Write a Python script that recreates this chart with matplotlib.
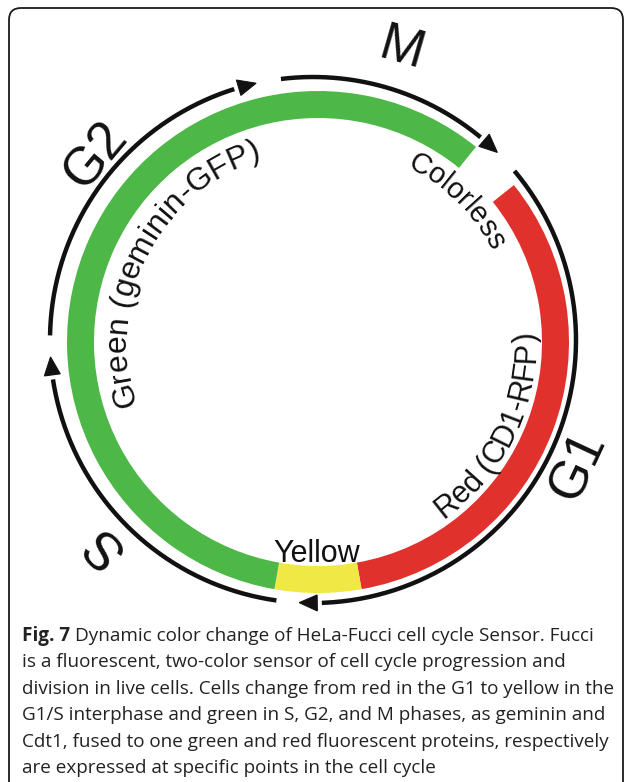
import numpy as np
import matplotlib
matplotlib.use("Agg")
import matplotlib.pyplot as plt
from matplotlib.patches import Wedge, Polygon, FancyBboxPatch
from matplotlib.font_manager import FontProperties

# ---------------- data ----------------
# coloured ring segments (math angles, counter-clockwise from theta1 to theta2)
seg_names = ["Red", "Yellow", "Green"]
seg_theta1 = [-80, -100, 51]
seg_theta2 = [38.7, -80, 260]
seg_colors = ["#E1312C", "#EFE845", "#4DB748"]

# phase arrows (travel clockwise: start angle -> arrow-tip angle)
phase_names = ["S", "G2", "M", "G1"]
phase_start = [262, 179, 97, 40]
phase_end = [183.7, 102.5, 45.5, -93]

# phase labels
label_text = ["M", "G1", "S", "G2"]
label_angle = [74, -25.5, 223.5, 140]
label_radius = [304, 288, 295, 290]
label_rot = [-16, 65, 133.5, 50]

# curved labels inside the ring
arc_text = ["Green (geminin-GFP)", "Red (CD1-RFP)", "Colorless"]
arc_center = [153, -26, 45.5]
arc_radius = [192, 217, 196]
arc_clockwise = [True, False, True]
arc_size = [23, 22, 21]

caption_bold = "Fig. 7"
caption_lines = [
    "Dynamic color change of HeLa-Fucci cell cycle Sensor. Fucci",
    "is a fluorescent, two-color sensor of cell cycle progression and",
    "division in live cells. Cells change from red in the G1 to yellow in the",
    "G1/S interphase and green in S, G2, and M phases, as geminin and",
    "Cdt1, fused to one green and red fluorescent proteins, respectively",
    "are expressed at specific points in the cell cycle",
]

# ---------------- layout ----------------
W, H = 627, 782
fig = plt.figure(figsize=(W / 100, H / 100), dpi=100)
ax = fig.add_axes([0, 0, 1, 1])
ax.set_xlim(0, W)
ax.set_ylim(0, H)
ax.axis("off")
renderer = fig.canvas.get_renderer()

cx, cy = 318, H - 342
r_out, ring_w = 251, 27
R_arrow, cxa, cya = 263, 313, H - 340

# frame
frame = FancyBboxPatch((9, -60), 614, (H - 8) + 60, boxstyle="round,pad=0,rounding_size=12",
                       fc="none", ec="#1a1a1a", lw=1.3)
ax.add_patch(frame)

# coloured ring
for t1, t2, col in zip(seg_theta1, seg_theta2, seg_colors):
    ax.add_patch(Wedge((cx, cy), r_out, t1, t2, width=ring_w, fc=col, ec="none"))

# phase arrows
head_len, head_hw = 18, 8
for th0, th1 in zip(phase_start, phase_end):
    dth = np.degrees(head_len / R_arrow)
    th_base = th1 + dth
    t = np.radians(np.linspace(th0, th_base + 1.0, 200))
    ax.plot(cxa + R_arrow * np.cos(t), cya + R_arrow * np.sin(t), color="#111111",
            lw=3.2, solid_capstyle="butt")
    tip = np.array([cxa + R_arrow * np.cos(np.radians(th1)), cya + R_arrow * np.sin(np.radians(th1))])
    base = np.array([cxa + R_arrow * np.cos(np.radians(th_base)), cya + R_arrow * np.sin(np.radians(th_base))])
    nrm = np.array([np.cos(np.radians(th_base)), np.sin(np.radians(th_base))])
    ax.add_patch(Polygon([tip, base + head_hw * nrm, base - head_hw * nrm], closed=True,
                         fc="#111111", ec="#111111", lw=0.8))

# phase labels
fp_big = FontProperties(family="Liberation Sans", size=38)
for s, a, r, rot in zip(label_text, label_angle, label_radius, label_rot):
    ax.text(cx + r * np.cos(np.radians(a)), cy + r * np.sin(np.radians(a)), s,
            fontproperties=fp_big, rotation=rot, rotation_mode="anchor",
            ha="center", va="center", color="#111111")


def curved_text(s, r, theta_c, clockwise, fp):
    def w(t):
        return renderer.get_text_width_height_descent(t, fp, ismath=False)[0]
    base = w("xx")
    adv = np.array([w("x" + c + "x") - base for c in s])
    L = adv.sum()
    pos = np.cumsum(adv) - adv / 2 - L / 2
    for c, p in zip(s, pos):
        if clockwise:
            th = np.radians(theta_c) - p / r
            rot = np.degrees(th) - 90
        else:
            th = np.radians(theta_c) + p / r
            rot = np.degrees(th) + 90
        ax.text(cx + r * np.cos(th), cy + r * np.sin(th), c, fontproperties=fp,
                rotation=rot, rotation_mode="anchor", ha="center", va="baseline",
                color="#111111")


for s, a, r, cw, sz in zip(arc_text, arc_center, arc_radius, arc_clockwise, arc_size):
    curved_text(s, r, a, cw, FontProperties(family="Liberation Sans", size=sz))

# Yellow label
ax.text(317, H - 562, "Yellow", fontproperties=FontProperties(family="Liberation Sans", size=22),
        ha="center", va="baseline", color="#111111")

# caption
target_w = 596
fp_cap = FontProperties(family="Open Sans", size=14)
wlong = renderer.get_text_width_height_descent(caption_lines[2], fp_cap, ismath=False)[0]
cap_size = 14 * target_w / wlong
fp_cap = FontProperties(family="Open Sans", size=cap_size)
fp_capb = FontProperties(family="Open Sans", weight="bold", size=cap_size)
x0 = 22
y0 = H - 641
dy = 26.4
ax.text(x0, y0, caption_bold, fontproperties=fp_capb, ha="left", va="baseline", color="#222222")
bw = renderer.get_text_width_height_descent(caption_bold + " x", fp_capb, ismath=False)[0] - \
     renderer.get_text_width_height_descent("x", fp_capb, ismath=False)[0]
for i, line in enumerate(caption_lines):
    xx = x0 + (bw if i == 0 else 0)
    ax.text(xx, y0 - i * dy, line, fontproperties=fp_cap, ha="left", va="baseline", color="#222222")

fig.savefig("out.png", dpi=100)
